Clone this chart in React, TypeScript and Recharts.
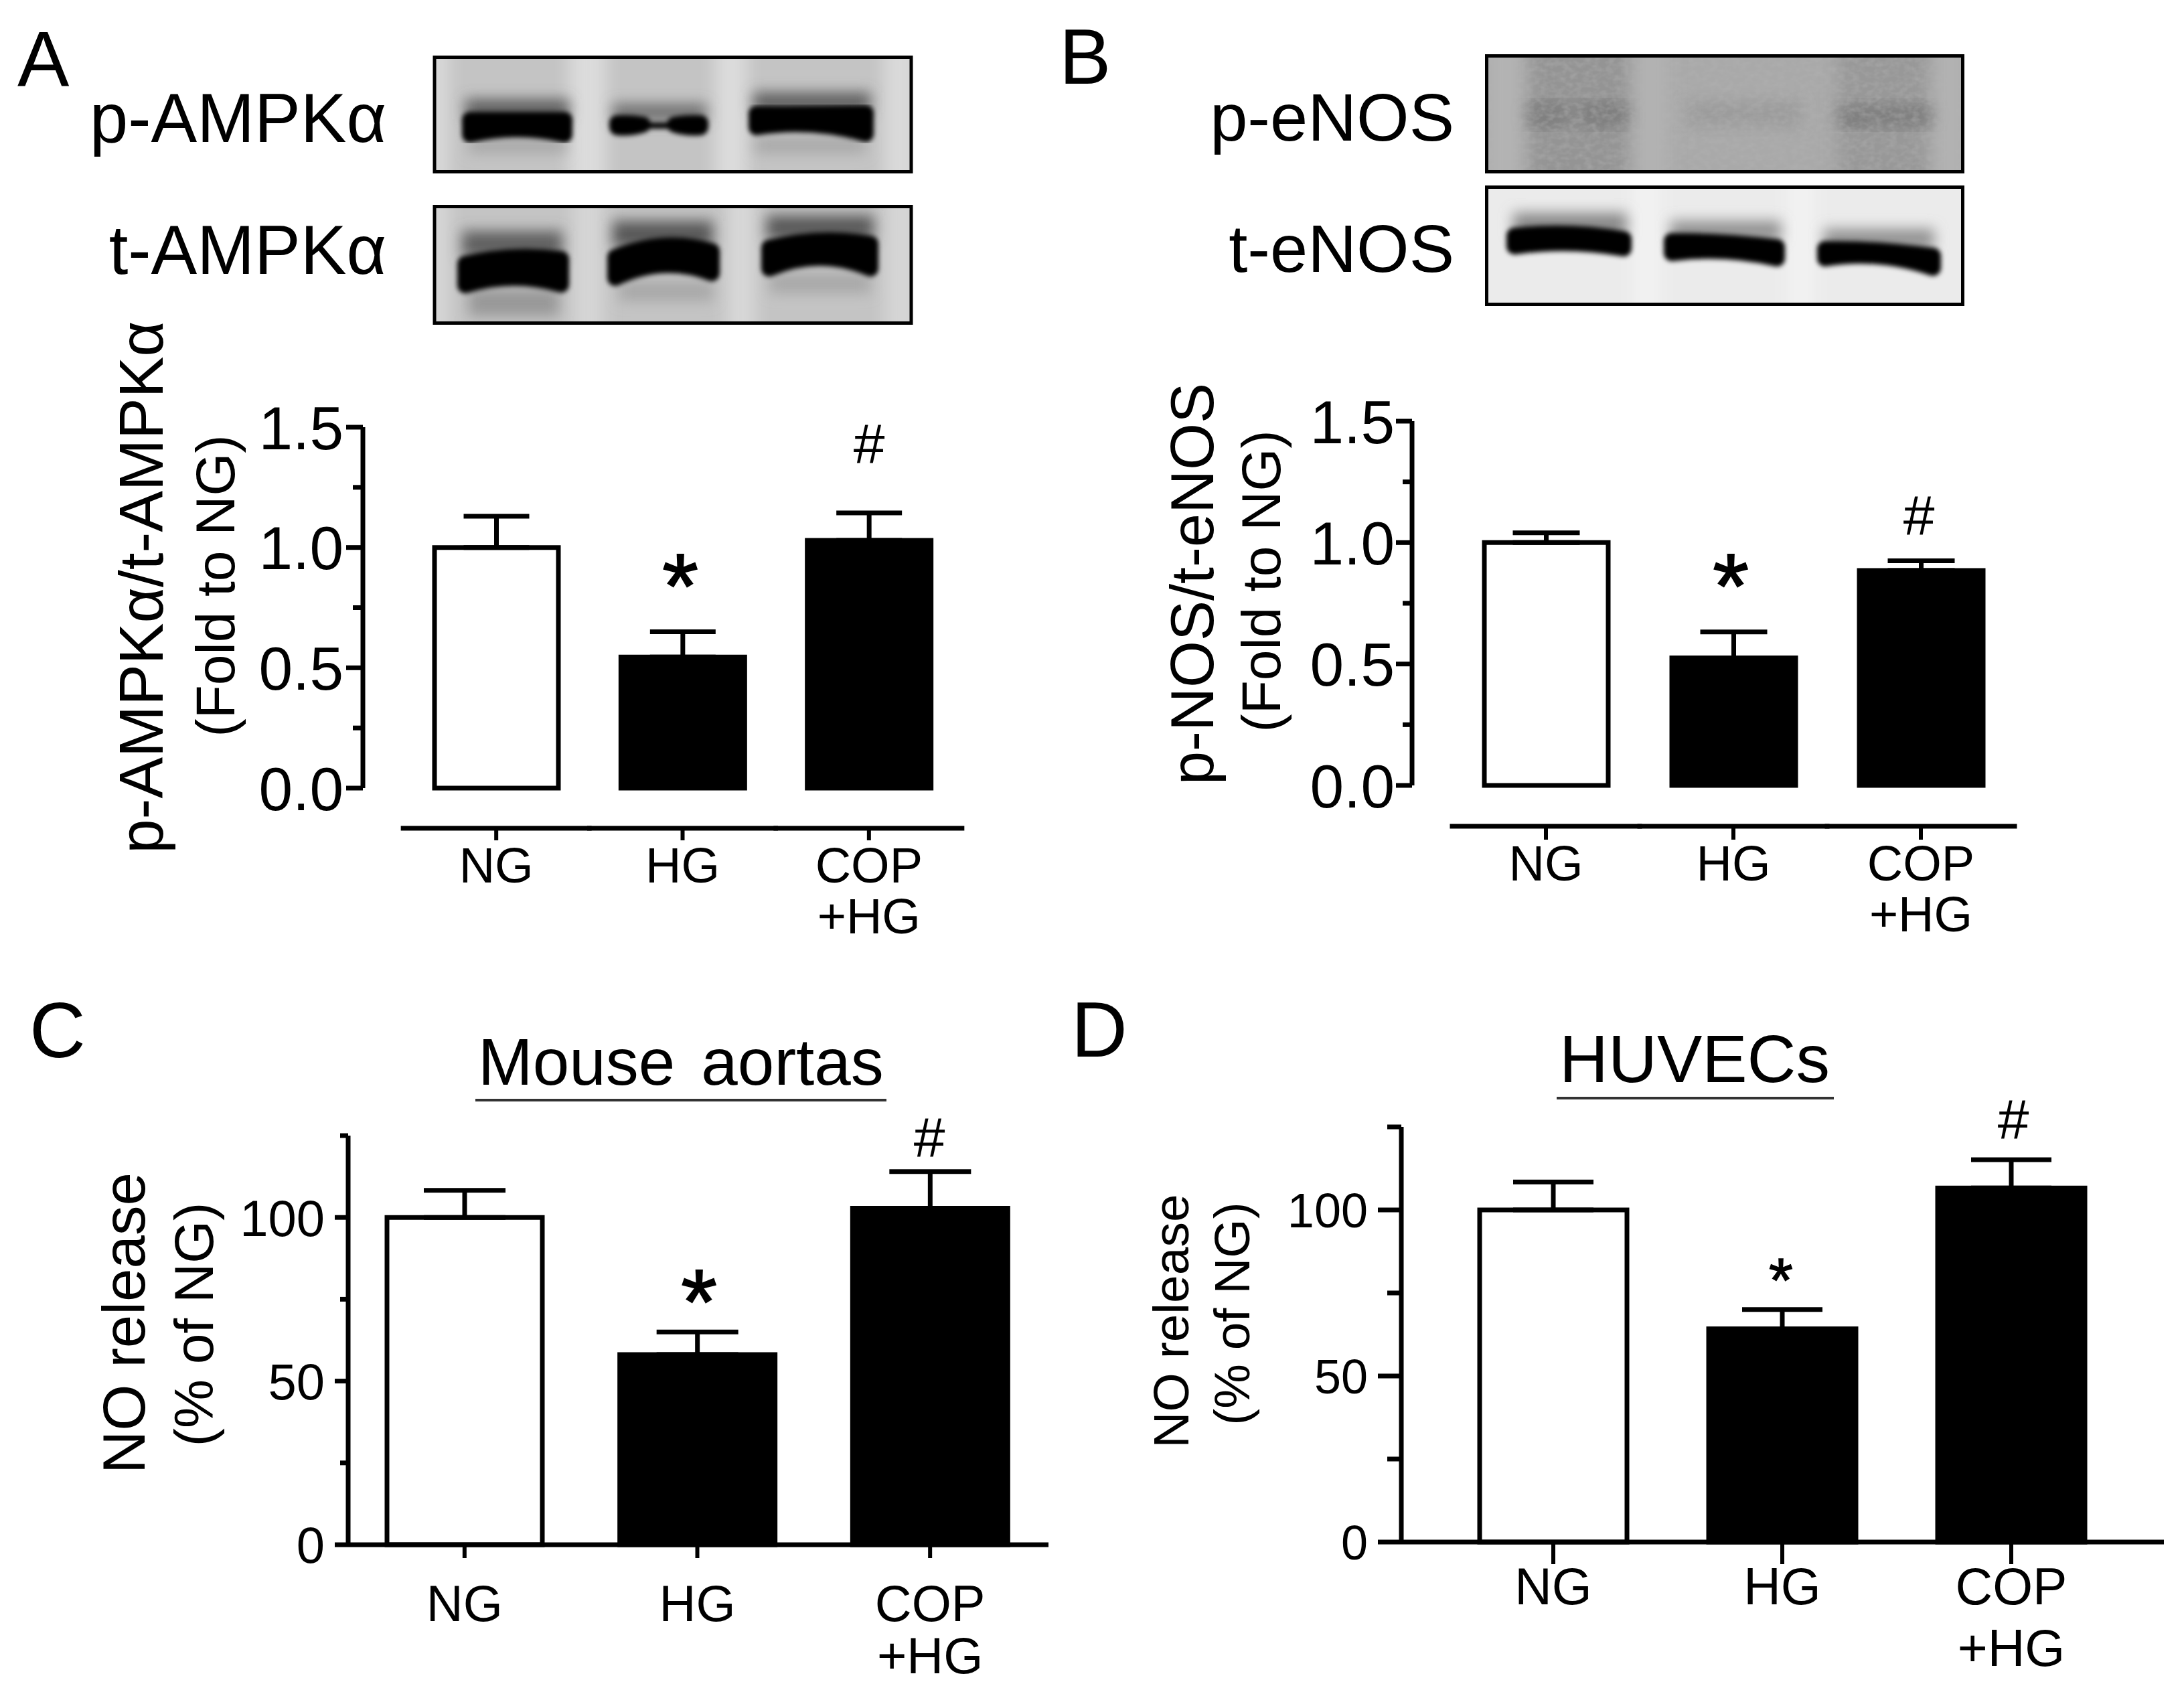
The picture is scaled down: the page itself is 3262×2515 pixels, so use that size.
import { BarChart, Bar, Cell, ErrorBar, XAxis, YAxis } from 'recharts'

const FONT = '"Liberation Sans", Arial, sans-serif'

// chart values
const categories = ['NG', 'HG', 'COP +HG']
const barFills = ['#fff', '#000', '#000']

const valuesA = [1.0, 0.545, 1.03]
const errorsA = [0.13, 0.105, 0.114]
const valuesB = [1.0, 0.525, 0.885]
const errorsB = [0.04, 0.107, 0.04]
const valuesC = [100, 58.1, 102.8]
const errorsC = [8.3, 6.9, 11.2]
const valuesD = [100, 64.2, 106.6]
const errorsD = [8.4, 5.8, 8.5]

const ticksFold = [0, 0.25, 0.5, 0.75, 1, 1.25, 1.5]
const ticksPercent = [0, 25, 50, 75, 100, 125]

const table = (values: number[], errors: number[]) =>
  categories.map((name, i) => ({ name, value: values[i], err: [0, errors[i]] }))

const GUTTER = 220
const FOOT = 260
const HEAD = 70

function YTick({ x, y, payload, major, gap, majorLen, minorLen, size, digits }: any) {
  const v = payload.value
  const isMajor = major(v)
  return (
    <g>
      <line x1={x} x2={x - (isMajor ? majorLen : minorLen)} y1={y} y2={y} stroke="#000" strokeWidth={7} />
      {isMajor && (
        <text x={x - gap} y={y + size * 0.36} textAnchor="end" fontSize={size} fontFamily={FONT} fill="#000">
          {v.toFixed(digits)}
        </text>
      )}
    </g>
  )
}

function XTick({ x, y, payload, band, drop, tickLen, size, first, second }: any) {
  const lines = payload.value.split(' ')
  return (
    <g>
      {band > 0 && <line x1={x - band / 2} x2={x + band / 2} y1={y + drop} y2={y + drop} stroke="#000" strokeWidth={7} strokeLinecap="square" />}
      <line x1={x} x2={x} y1={y + drop} y2={y + drop + tickLen} stroke="#000" strokeWidth={6} />
      <text y={y + first} textAnchor="middle" fontSize={size} fontFamily={FONT} fill="#000">
        <tspan x={x}>{lines[0]}</tspan>
        {lines[1] && <tspan x={x} dy={second - first}>{lines[1]}</tspan>}
      </text>
    </g>
  )
}

function Panel({ values, errors, left, right, top, bottom, domain, ticks, major, digits, padLeft, padRight, barSize, capWidth, yTick, xTick, axisLine }: any) {
  return (
    <div style={{ position: 'absolute', left: left - GUTTER, top: top - HEAD }}>
      <BarChart
        width={right - left + GUTTER + 20}
        height={bottom - top + HEAD + FOOT}
        data={table(values, errors)}
        margin={{ top: HEAD, right: 20, left: 0, bottom: 0 }}
      >
        <XAxis
          dataKey="name"
          height={FOOT}
          interval={0}
          padding={{ left: padLeft, right: padRight }}
          axisLine={axisLine ? { stroke: '#000', strokeWidth: 7 } : false}
          tickLine={false}
          tickSize={0}
          tickMargin={0}
          tick={(p: any) => <XTick {...p} {...xTick} />}
        />
        <YAxis
          type="number"
          width={GUTTER}
          domain={domain}
          ticks={ticks}
          interval={0}
          axisLine={{ stroke: '#000', strokeWidth: 7 }}
          tickLine={false}
          tickSize={0}
          tickMargin={0}
          tick={(p: any) => <YTick {...p} {...yTick} major={major} digits={digits} />}
        />
        <Bar dataKey="value" barSize={barSize} stroke="#000" strokeWidth={7} isAnimationActive={false}>
          {categories.map((c, i) => <Cell key={c} fill={barFills[i]} />)}
          <ErrorBar dataKey="err" direction="y" width={capWidth} stroke="#000" strokeWidth={7} isAnimationActive={false} />
        </Bar>
      </BarChart>
    </div>
  )
}

function Txt({ x, y, size, anchor = 'start', rotate, children, spacing, bold }: any) {
  return (
    <text
      x={x}
      y={y}
      fontSize={size}
      fontFamily={FONT}
      textAnchor={anchor}
      wordSpacing={spacing}
      fill="#000"
      stroke={bold ? '#000' : undefined}
      strokeWidth={bold}
      transform={rotate ? `rotate(-90 ${x} ${y})` : undefined}
    >
      {children}
    </text>
  )
}

// western blot strips are pictures, not data: bands are [x0, x1, topL, topMid, topR, botL, botMid, botR]
const R = 12
const bandPath = ([x0, x1, tl, tm, tr, bl, bm, br]: number[]) => {
  const a = x0 + R
  const b = x1 - R
  const mid = (a + b) / 2
  const tc = 2 * (tm + R) - (tl + tr + 2 * R) / 2
  const bc = 2 * (bm - R) - (bl + br - 2 * R) / 2
  return `M${a},${tl + R} Q${mid},${tc} ${b},${tr + R} L${b},${br - R} Q${mid},${bc} ${a},${bl - R} Z`
}

function Blot({ id, x, y, w, h, bg, lanes, smears = [], links = [], bands, fill = '#000', blur = 'edge', grain }: any) {
  return (
    <g>
      <clipPath id={id}><rect x={x} y={y} width={w} height={h} /></clipPath>
      <g clipPath={`url(#${id})`}>
        <rect x={x} y={y} width={w} height={h} fill={bg} />
        <g filter="url(#soft)">
          {lanes.map((l: any[], i: number) => <rect key={i} x={l[0]} y={y - 30} width={l[1]} height={h + 60} fill={l[2]} />)}
        </g>
        <g filter="url(#haze)">
          {smears.map((s: any[], i: number) => <rect key={i} x={s[0]} y={s[1]} width={s[2]} height={s[3]} fill={s[4]} />)}
        </g>
        <g filter={`url(#${blur})`}>
          {links.map((s: number[], i: number) => <rect key={i} x={s[0]} y={s[1]} width={s[2]} height={s[3]} fill={fill} />)}
          {bands.map((b: number[], i: number) => (
            <path key={i} d={bandPath(b)} fill={fill} stroke={fill} strokeWidth={R * 2} strokeLinejoin="round" />
          ))}
        </g>
        {grain && <rect x={x} y={y} width={w} height={h} filter="url(#grain)" />}
      </g>
      <rect x={x} y={y} width={w} height={h} fill="none" stroke="#000" strokeWidth={5} />
    </g>
  )
}

const blotPA = {
  id: 'pa', x: 649, y: 85.5, w: 712, h: 171, bg: '#c4c4c4',
  lanes: [[640, 30, '#dadada'], [850, 55, '#dcdcdc'], [1068, 48, '#dcdcdc'], [1320, 50, '#dadada']],
  smears: [[695, 148, 155, 30, '#606060'], [915, 155, 140, 26, '#707070'], [1125, 138, 175, 30, '#606060'], [700, 205, 145, 24, '#a8a8a8'], [1128, 205, 165, 24, '#a8a8a8']],
  links: [[960, 183, 50, 9]],
  bands: [
    [690, 855, 167, 167, 167, 213, 205, 213],
    [910, 972, 172, 172, 174, 202, 202, 198],
    [996, 1058, 174, 172, 172, 198, 202, 202],
    [1118, 1305, 158, 158, 157, 202, 198, 212],
  ],
}
const blotTA = {
  id: 'ta', x: 649, y: 308.5, w: 712, h: 174, bg: '#c4c4c4',
  lanes: [[640, 30, '#d8d8d8'], [856, 45, '#d6d6d6'], [1086, 42, '#d8d8d8'], [1322, 50, '#d6d6d6']],
  smears: [[690, 345, 150, 40, '#606060'], [915, 330, 150, 40, '#585858'], [1145, 322, 160, 36, '#585858'], [700, 432, 135, 40, '#989898'], [925, 420, 140, 30, '#a8a8a8'], [1150, 408, 150, 30, '#a8a8a8']],
  bands: [
    [683, 850, 382, 372, 375, 438, 427, 437],
    [907, 1075, 372, 355, 363, 427, 408, 420],
    [1137, 1312, 358, 347, 352, 413, 397, 413],
  ],
}
const blotPE = {
  id: 'pe', x: 2220.5, y: 83.5, w: 711, h: 173, bg: '#a9a9a9', fill: '#7f7f7f', blur: 'wide', grain: true,
  lanes: [[2222, 50, '#b4b4b4'], [2283, 150, '#949494'], [2442, 50, '#b2b2b2'], [2745, 135, '#989898'], [2890, 45, '#b2b2b2']],
  smears: [[2520, 150, 170, 40, '#9c9c9c']],
  bands: [
    [2283, 2345, 148, 150, 150, 195, 192, 192],
    [2355, 2432, 150, 148, 150, 188, 195, 190],
    [2745, 2885, 156, 154, 154, 195, 192, 192],
  ],
}
const blotTE = {
  id: 'te', x: 2220.5, y: 279.5, w: 711, h: 175, bg: '#ebebeb',
  lanes: [[2440, 40, '#f2f2f2'], [2670, 40, '#f2f2f2']],
  smears: [[2260, 318, 170, 34, '#888888'], [2495, 330, 165, 30, '#909090'], [2724, 342, 165, 30, '#909090']],
  bands: [
    [2250, 2437, 340, 337, 345, 380, 375, 383],
    [2485, 2666, 348, 350, 357, 390, 387, 398],
    [2714, 2899, 360, 362, 370, 398, 395, 412],
  ],
}

const isFoldMajor = (v: number) => v % 0.5 === 0
const isPercentMajor = (v: number) => v % 50 === 0 && v <= 100

export default function App() {
  return (
    <div style={{ position: 'absolute', left: 0, top: 0, width: 3262, height: 2515, background: '#fff', overflow: 'hidden', filter: 'blur(0.7px)' }}>
      <Panel
        values={valuesA} errors={errorsA} left={542} right={1437} top={638} bottom={1177}
        domain={[0, 1.5]} ticks={ticksFold} major={isFoldMajor} digits={1}
        padLeft={60} padRight={0} barSize={185} capWidth={49}
        yTick={{ gap: 29, majorLen: 25, minorLen: 15, size: 91 }}
        xTick={{ band: 278, drop: 60, tickLen: 18, size: 74, first: 141, second: 217 }}
      />
      <Panel
        values={valuesB} errors={errorsB} left={2109} right={3009} top={629} bottom={1173}
        domain={[0, 1.5]} ticks={ticksFold} major={isFoldMajor} digits={1}
        padLeft={60} padRight={0} barSize={185} capWidth={50}
        yTick={{ gap: 26, majorLen: 24, minorLen: 14, size: 91 }}
        xTick={{ band: 280, drop: 61, tickLen: 20, size: 74, first: 142, second: 218 }}
      />
      <Panel
        values={valuesC} errors={errorsC} left={520} right={1566} top={1696} bottom={2307}
        domain={[0, 125]} ticks={ticksPercent} major={isPercentMajor} digits={0}
        padLeft={0} padRight={3} barSize={232} capWidth={61} axisLine
        yTick={{ gap: 35, majorLen: 20, minorLen: 12, size: 76 }}
        xTick={{ band: 0, drop: 0, tickLen: 20, size: 76, first: 114, second: 192 }}
      />
      <Panel
        values={valuesD} errors={errorsD} left={2093} right={3232} top={1683} bottom={2303}
        domain={[0, 125]} ticks={ticksPercent} major={isPercentMajor} digits={0}
        padLeft={56} padRight={57} barSize={220} capWidth={60} axisLine
        yTick={{ gap: 50, majorLen: 35, minorLen: 21, size: 72 }}
        xTick={{ band: 0, drop: 0, tickLen: 33, size: 77, first: 93, second: 185 }}
      />

      <svg width={3262} height={2515} style={{ position: 'absolute', left: 0, top: 0, pointerEvents: 'none' }}>
        <defs>
          <filter id="soft" x="-20%" y="-20%" width="140%" height="140%"><feGaussianBlur stdDeviation="12" /></filter>
          <filter id="haze" x="-20%" y="-40%" width="140%" height="180%"><feGaussianBlur stdDeviation="10" /></filter>
          <filter id="edge" x="-20%" y="-40%" width="140%" height="180%"><feGaussianBlur stdDeviation="3.5" /></filter>
          <filter id="wide" x="-20%" y="-60%" width="140%" height="220%"><feGaussianBlur stdDeviation="11" /></filter>
          <filter id="grain" x="0" y="0" width="100%" height="100%">
            <feTurbulence type="fractalNoise" baseFrequency="0.09 0.13" numOctaves={2} seed={4} />
            <feColorMatrix type="matrix" values="0 0 0 0 0.45  0 0 0 0 0.45  0 0 0 0 0.45  0.9 0 0 0 -0.34" />
          </filter>
        </defs>

        <Blot {...blotPA} />
        <Blot {...blotTA} />
        <Blot {...blotPE} />
        <Blot {...blotTE} />

        <Txt x={26} y={129} size={116}>A</Txt>
        <Txt x={577} y={212} size={103} anchor="end">p-AMPKα</Txt>
        <Txt x={577} y={409} size={103} anchor="end">t-AMPKα</Txt>
        <Txt x={243} y={877} size={92.5} anchor="middle" rotate>p-AMPKα/t-AMPKα</Txt>
        <Txt x={350} y={875} size={82} anchor="middle" rotate>(Fold to NG)</Txt>
        <Txt x={1016} y={923} size={138} anchor="middle" bold={2}>*</Txt>
        <Txt x={1298} y={692} size={84} anchor="middle">#</Txt>

        <Txt x={1582} y={125} size={116}>B</Txt>
        <Txt x={2172} y={210} size={101} anchor="end">p-eNOS</Txt>
        <Txt x={2172} y={406} size={101} anchor="end">t-eNOS</Txt>
        <Txt x={1812} y={872} size={90} anchor="middle" rotate>p-NOS/t-eNOS</Txt>
        <Txt x={1912} y={868} size={82} anchor="middle" rotate>(Fold to NG)</Txt>
        <Txt x={2585} y={923} size={138} anchor="middle" bold={2}>*</Txt>
        <Txt x={2866} y={799} size={84} anchor="middle">#</Txt>

        <Txt x={44} y={1579} size={116}>C</Txt>
        <Txt x={714} y={1620} size={98} spacing={12}>Mouse aortas</Txt>
        <line x1={710} x2={1324} y1={1643} y2={1643} stroke="#333" strokeWidth={4} />
        <Txt x={216} y={1976} size={89} anchor="middle" rotate>NO release</Txt>
        <Txt x={318} y={1978} size={82} anchor="middle" rotate>(% of NG)</Txt>
        <Txt x={1044} y={1992} size={138} anchor="middle" bold={2}>*</Txt>
        <Txt x={1388} y={1728} size={84} anchor="middle">#</Txt>

        <Txt x={1600} y={1578} size={116}>D</Txt>
        <Txt x={2329} y={1616} size={101}>HUVECs</Txt>
        <line x1={2325} x2={2739} y1={1640} y2={1640} stroke="#333" strokeWidth={4} />
        <Txt x={1775} y={1973} size={75} anchor="middle" rotate>NO release</Txt>
        <Txt x={1866} y={1962} size={75} anchor="middle" rotate>(% of NG)</Txt>
        <Txt x={2660} y={1944} size={92} anchor="middle" bold={1.5}>*</Txt>
        <Txt x={3007} y={1701} size={84} anchor="middle">#</Txt>
      </svg>
    </div>
  )
}
